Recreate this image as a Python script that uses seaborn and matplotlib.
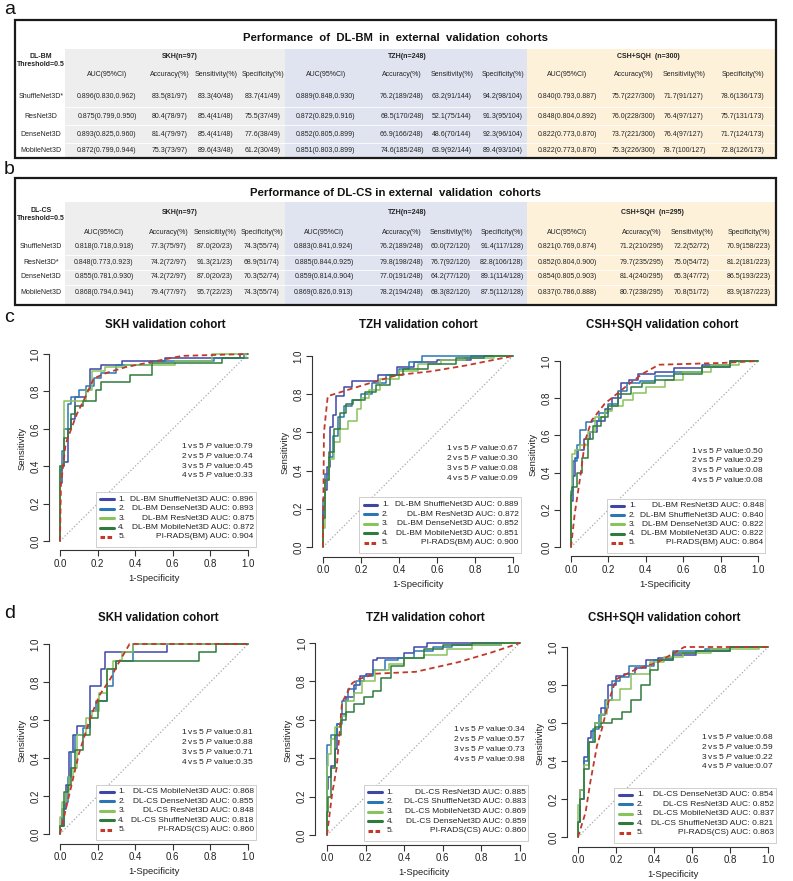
import matplotlib
matplotlib.use("Agg")
import matplotlib.pyplot as plt
from matplotlib.patches import Rectangle
import seaborn as sns

sns.set_theme(style="white")
plt.rcParams['font.family'] = ['Liberation Sans', 'DejaVu Sans']
plt.rcParams['mathtext.fontset'] = 'custom'
plt.rcParams['mathtext.rm'] = 'Liberation Sans'
plt.rcParams['mathtext.it'] = 'Liberation Sans:italic'

# -------------------------------
# Table data
# -------------------------------
models_bm = ["ShuffleNet3D*", "ResNet3D", "DenseNet3D", "MobileNet3D"]
models_cs = ["ShuffleNet3D", "ResNet3D*", "DenseNet3D", "MobileNet3D"]
cohorts_bm = ["SKH(n=97)", "TZH(n=248)", "CSH+SQH  (n=300)"]
cohorts_cs = ["SKH(n=97)", "TZH(n=248)", "CSH+SQH  (n=295)"]
metrics = ["AUC(95%CI)", "Accuracy(%)", "Sensitivity(%)", "Specificity(%)"]
metrics_cs_skh = ["AUC(95%CI)", "Accuracy(%)", "Sensicitity(%)", "Specificity(%)"]

bm_skh = [["0.896(0.830,0.962)", "83.5(81/97)", "83.3(40/48)", "83.7(41/49)"],
          ["0.875(0.799,0.950)", "80.4(78/97)", "85.4(41/48)", "75.5(37/49)"],
          ["0.893(0.825,0.960)", "81.4(79/97)", "85.4(41/48)", "77.6(38/49)"],
          ["0.872(0.799,0.944)", "75.3(73/97)", "89.6(43/48)", "61.2(30/49)"]]
bm_tzh = [["0.889(0.848,0.930)", "76.2(189/248)", "63.2(91/144)", "94.2(98/104)"],
          ["0.872(0.829,0.916)", "68.5(170/248)", "52.1(75/144)", "91.3(95/104)"],
          ["0.852(0.805,0.899)", "66.9(166/248)", "48.6(70/144)", "92.3(96/104)"],
          ["0.851(0.803,0.899)", "74.6(185/248)", "63.9(92/144)", "89.4(93/104)"]]
bm_csh = [["0.840(0.793,0.887)", "75.7(227/300)", "71.7(91/127)", "78.6(136/173)"],
          ["0.848(0.804,0.892)", "76.0(228/300)", "76.4(97/127)", "75.7(131/173)"],
          ["0.822(0.773,0.870)", "73.7(221/300)", "76.4(97/127)", "71.7(124/173)"],
          ["0.822(0.773,0.870)", "75.3(226/300)", "78.7(100/127)", "72.8(126/173)"]]

cs_skh = [["0.818(0.718,0.918)", "77.3(75/97)", "87.0(20/23)", "74.3(55/74)"],
          ["0.848(0.773,0.923)", "74.2(72/97)", "91.3(21/23)", "68.9(51/74)"],
          ["0.855(0.781,0.930)", "74.2(72/97)", "87.0(20/23)", "70.3(52/74)"],
          ["0.868(0.794,0.941)", "79.4(77/97)", "95.7(22/23)", "74.3(55/74)"]]
cs_tzh = [["0.883(0.841,0.924)", "76.2(189/248)", "60.0(72/120)", "91.4(117/128)"],
          ["0.885(0.844,0.925)", "79.8(198/248)", "76.7(92/120)", "82.8(106/128)"],
          ["0.859(0.814,0.904)", "77.0(191/248)", "64.2(77/120)", "89.1(114/128)"],
          ["0.869(0.826,0.913)", "78.2(194/248)", "68.3(82/120)", "87.5(112/128)"]]
cs_csh = [["0.821(0.769,0.874)", "71.2(210/295)", "72.2(52/72)", "70.9(158/223)"],
          ["0.852(0.804,0.900)", "79.7(235/295)", "75.0(54/72)", "81.2(181/223)"],
          ["0.854(0.805,0.903)", "81.4(240/295)", "65.3(47/72)", "86.5(193/223)"],
          ["0.837(0.786,0.888)", "80.7(238/295)", "70.8(51/72)", "83.9(187/223)"]]

# -------------------------------
# ROC data (1-specificity, sensitivity)
# order: model 1..4, then PI-RADS
# -------------------------------
c1_fpr = [[0, 0.01, 0.02, 0.04, 0.06, 0.08, 0.10, 0.14, 0.16, 0.18, 0.22, 0.28, 0.33, 0.56, 0.96, 1.0],
          [0, 0.01, 0.02, 0.04, 0.06, 0.10, 0.14, 0.18, 0.22, 0.30, 0.35, 0.48, 0.82, 0.98, 1.0],
          [0, 0.02, 0.10, 0.14, 0.17, 0.24, 0.35, 0.61, 0.81, 1.0],
          [0, 0.02, 0.04, 0.06, 0.08, 0.12, 0.15, 0.19, 0.22, 0.25, 0.37, 0.49, 0.86, 1.0],
          [0, 0.005, 0.03, 0.09, 0.13, 0.18, 0.25, 0.35, 0.50, 0.65, 1.0]]
c1_tpr = [[0, 0.31, 0.40, 0.42, 0.60, 0.65, 0.77, 0.77, 0.81, 0.92, 0.92, 0.94, 0.94, 0.96, 0.98, 1.0],
          [0, 0.38, 0.48, 0.60, 0.73, 0.77, 0.81, 0.83, 0.87, 0.90, 0.94, 0.94, 0.96, 0.98, 1.0],
          [0, 0.40, 0.75, 0.75, 0.81, 0.91, 0.93, 0.94, 0.96, 1.0],
          [0, 0.40, 0.55, 0.60, 0.68, 0.72, 0.75, 0.75, 0.81, 0.85, 0.85, 0.89, 0.95, 0.98],
          [0, 0.30, 0.52, 0.68, 0.76, 0.87, 0.90, 0.93, 0.96, 0.99, 1.0]]
c1_names = ["DL-BM ShuffleNet3D", "DL-BM DenseNet3D", "DL-BM ResNet3D", "DL-BM MobileNet3D", "PI-RADS(BM)"]
c1_auc = [0.896, 0.893, 0.875, 0.872, 0.904]
c1_p = [0.79, 0.74, 0.45, 0.33]

c2_fpr = [[0, 0.01, 0.02, 0.035, 0.05, 0.07, 0.11, 0.15, 0.20, 0.29, 0.39, 0.48, 0.60, 0.78, 0.90, 1.0],
          [0, 0.01, 0.03, 0.05, 0.08, 0.11, 0.15, 0.20, 0.26, 0.33, 0.40, 0.45, 0.52, 0.62, 0.75, 1.0],
          [0, 0.01, 0.03, 0.06, 0.09, 0.13, 0.18, 0.20, 0.24, 0.30, 0.40, 0.50, 0.62, 0.75, 0.90, 1.0],
          [0, 0.01, 0.03, 0.06, 0.09, 0.12, 0.16, 0.22, 0.28, 0.35, 0.42, 0.55, 0.70, 0.85, 1.0],
          [0, 0.005, 0.025, 0.22, 0.39, 0.57, 0.75, 1.0]]
c2_tpr = [[0, 0.20, 0.30, 0.42, 0.63, 0.69, 0.79, 0.84, 0.87, 0.87, 0.90, 0.94, 0.97, 0.98, 1.0, 1.0],
          [0, 0.25, 0.38, 0.47, 0.58, 0.68, 0.74, 0.77, 0.80, 0.86, 0.90, 0.93, 0.97, 1.0, 1.0, 1.0],
          [0, 0.10, 0.35, 0.46, 0.55, 0.62, 0.66, 0.72, 0.78, 0.82, 0.88, 0.92, 0.96, 0.98, 0.99, 1.0],
          [0, 0.15, 0.35, 0.50, 0.62, 0.70, 0.75, 0.77, 0.81, 0.85, 0.90, 0.93, 0.96, 0.99, 1.0],
          [0, 0.60, 0.79, 0.85, 0.90, 0.92, 0.95, 1.0]]
c2_names = ["DL-BM ShuffleNet3D", "DL-BM ResNet3D", "DL-BM DenseNet3D", "DL-BM MobileNet3D", "PI-RADS(BM)"]
c2_auc = [0.889, 0.872, 0.852, 0.851, 0.900]
c2_p = [0.67, 0.30, 0.08, 0.09]

c3_fpr = [[0, 0.01, 0.02, 0.04, 0.07, 0.10, 0.14, 0.18, 0.22, 0.27, 0.31, 0.36, 0.45, 0.55, 0.70, 0.85, 1.0],
          [0, 0.01, 0.03, 0.05, 0.08, 0.11, 0.15, 0.20, 0.25, 0.30, 0.37, 0.45, 0.55, 0.70, 0.85, 1.0],
          [0, 0.005, 0.02, 0.05, 0.09, 0.13, 0.18, 0.22, 0.28, 0.33, 0.40, 0.50, 0.60, 0.75, 0.90, 1.0],
          [0, 0.005, 0.03, 0.06, 0.09, 0.12, 0.16, 0.20, 0.25, 0.32, 0.38, 0.45, 0.55, 0.70, 0.85, 1.0],
          [0, 0.02, 0.05, 0.075, 0.11, 0.18, 0.29, 0.38, 0.47, 0.82, 1.0]]
c3_tpr = [[0, 0.25, 0.38, 0.48, 0.52, 0.58, 0.62, 0.68, 0.74, 0.80, 0.88, 0.90, 0.93, 0.94, 0.96, 0.98, 1.0],
          [0, 0.30, 0.46, 0.55, 0.63, 0.67, 0.68, 0.72, 0.77, 0.84, 0.88, 0.89, 0.92, 0.94, 0.97, 1.0],
          [0, 0.28, 0.50, 0.52, 0.55, 0.62, 0.70, 0.73, 0.76, 0.79, 0.83, 0.86, 0.90, 0.94, 0.98, 1.0],
          [0, 0.28, 0.32, 0.40, 0.48, 0.58, 0.65, 0.70, 0.76, 0.82, 0.86, 0.88, 0.90, 0.93, 0.97, 1.0],
          [0, 0.18, 0.38, 0.57, 0.68, 0.77, 0.86, 0.93, 0.98, 0.99, 1.0]]
c3_names = ["DL-BM ResNet3D", "DL-BM ShuffleNet3D", "DL-BM DenseNet3D", "DL-BM MobileNet3D", "PI-RADS(BM)"]
c3_auc = [0.848, 0.840, 0.822, 0.822, 0.864]
c3_p = [0.50, 0.29, 0.08, 0.08]

d1_fpr = [[0, 0.01, 0.03, 0.05, 0.07, 0.09, 0.12, 0.16, 0.22, 0.24, 0.57, 1.0],
          [0, 0.02, 0.04, 0.06, 0.08, 0.12, 0.16, 0.19, 0.25, 0.28, 0.30, 0.39, 1.0],
          [0, 0.01, 0.03, 0.05, 0.07, 0.09, 0.11, 0.14, 0.17, 0.21, 0.25, 0.28, 0.33, 0.39, 1.0],
          [0, 0.02, 0.04, 0.06, 0.08, 0.12, 0.16, 0.20, 0.25, 0.30, 0.33, 0.74, 0.83, 1.0],
          [0, 0.10, 0.16, 0.21, 0.27, 0.30, 0.37, 1.0]]
d1_tpr = [[0, 0.04, 0.13, 0.26, 0.43, 0.52, 0.57, 0.57, 0.78, 0.87, 0.96, 1.0],
          [0, 0.04, 0.17, 0.30, 0.43, 0.52, 0.56, 0.65, 0.70, 0.78, 0.87, 0.91, 1.0],
          [0, 0.09, 0.17, 0.22, 0.30, 0.35, 0.52, 0.52, 0.61, 0.65, 0.74, 0.87, 0.91, 0.96, 1.0],
          [0, 0.04, 0.22, 0.26, 0.35, 0.44, 0.52, 0.61, 0.70, 0.87, 0.91, 0.91, 0.96, 1.0],
          [0, 0.42, 0.61, 0.73, 0.82, 0.88, 1.0, 1.0]]
d1_names = ["DL-CS MobileNet3D", "DL-CS DenseNet3D", "DL-CS ResNet3D", "DL-CS ShuffleNet3D", "PI-RADS(CS)"]
d1_auc = [0.868, 0.855, 0.848, 0.818, 0.860]
d1_p = [0.81, 0.88, 0.71, 0.35]

d2_fpr = [[0, 0.005, 0.02, 0.04, 0.05, 0.07, 0.10, 0.14, 0.17, 0.20, 0.24, 0.26, 0.33, 0.40, 0.45, 0.52, 0.58, 1.0],
          [0, 0.005, 0.02, 0.05, 0.08, 0.11, 0.15, 0.19, 0.24, 0.30, 0.37, 0.45, 0.55, 0.65, 0.80, 0.90, 1.0],
          [0, 0.005, 0.02, 0.04, 0.07, 0.10, 0.14, 0.18, 0.25, 0.32, 0.40, 0.50, 0.62, 0.75, 0.90, 1.0],
          [0, 0.005, 0.02, 0.04, 0.07, 0.10, 0.14, 0.19, 0.24, 0.28, 0.33, 0.40, 0.50, 0.60, 0.75, 0.90, 1.0],
          [0, 0.026, 0.05, 0.078, 0.13, 0.16, 0.25, 0.46, 0.68, 0.85, 1.0]]
d2_tpr = [[0, 0.24, 0.30, 0.36, 0.45, 0.58, 0.63, 0.72, 0.78, 0.83, 0.84, 0.91, 0.92, 0.92, 0.95, 0.98, 1.0, 1.0],
          [0, 0.47, 0.47, 0.52, 0.58, 0.70, 0.76, 0.80, 0.83, 0.86, 0.91, 0.92, 0.96, 0.98, 0.99, 0.99, 1.0],
          [0, 0.36, 0.42, 0.50, 0.56, 0.62, 0.70, 0.74, 0.80, 0.86, 0.89, 0.92, 0.94, 0.97, 0.99, 1.0],
          [0, 0.12, 0.20, 0.35, 0.52, 0.60, 0.64, 0.68, 0.72, 0.75, 0.82, 0.88, 0.92, 0.97, 0.99, 1.0, 1.0],
          [0, 0.21, 0.35, 0.69, 0.79, 0.81, 0.84, 0.85, 0.90, 0.95, 1.0]]
d2_names = ["DL-CS ResNet3D", "DL-CS ShuffleNet3D", "DL-CS MobileNet3D", "DL-CS DenseNet3D", "PI-RADS(CS)"]
d2_auc = [0.885, 0.883, 0.869, 0.859, 0.860]
d2_p = [0.34, 0.57, 0.73, 0.98]

d3_fpr = [[0, 0.01, 0.03, 0.05, 0.07, 0.09, 0.12, 0.16, 0.20, 0.24, 0.30, 0.36, 0.42, 0.50, 0.62, 0.80, 1.0],
          [0, 0.01, 0.03, 0.05, 0.08, 0.11, 0.14, 0.18, 0.22, 0.27, 0.33, 0.40, 0.50, 0.67, 0.80, 1.0],
          [0, 0.01, 0.03, 0.06, 0.09, 0.12, 0.15, 0.18, 0.22, 0.28, 0.33, 0.38, 0.45, 0.55, 0.70, 0.95, 1.0],
          [0, 0.01, 0.03, 0.06, 0.09, 0.12, 0.18, 0.23, 0.28, 0.33, 0.38, 0.42, 0.50, 0.62, 0.80, 1.0],
          [0, 0.04, 0.065, 0.10, 0.126, 0.16, 0.20, 0.30, 0.42, 0.56, 1.0]]
d3_tpr = [[0, 0.08, 0.25, 0.42, 0.52, 0.56, 0.60, 0.68, 0.80, 0.85, 0.86, 0.89, 0.93, 0.94, 0.96, 0.98, 1.0],
          [0, 0.08, 0.20, 0.40, 0.50, 0.57, 0.64, 0.72, 0.82, 0.84, 0.90, 0.90, 0.93, 0.98, 0.99, 1.0],
          [0, 0.17, 0.25, 0.38, 0.50, 0.60, 0.65, 0.72, 0.72, 0.78, 0.86, 0.86, 0.92, 0.95, 0.97, 0.99, 1.0],
          [0, 0.08, 0.20, 0.36, 0.50, 0.58, 0.60, 0.62, 0.66, 0.72, 0.80, 0.88, 0.93, 0.97, 0.98, 1.0],
          [0, 0.13, 0.29, 0.48, 0.57, 0.71, 0.83, 0.88, 0.92, 1.0, 1.0]]
d3_names = ["DL-CS DenseNet3D", "DL-CS ResNet3D", "DL-CS MobileNet3D", "DL-CS ShuffleNet3D", "PI-RADS(CS)"]
d3_auc = [0.854, 0.852, 0.837, 0.821, 0.863]
d3_p = [0.68, 0.59, 0.22, 0.07]

roc_colors = ["#3E47A5", "#2C77B3", "#88C35B", "#2F7B3C", "#C0392B"]
band_colors = ["#EEEEEE", "#DFE4F0", "#FDF1DA"]
TXT = "#222222"
TFS = 5.0  # table font size

W, H = 793, 881
fig = plt.figure(figsize=(W / 100, H / 100), dpi=100)

# full-figure overlay in pixel units for tables and panel letters
bg = fig.add_axes([0, 0, 1, 1])
bg.set_xlim(0, W)
bg.set_ylim(H, 0)
bg.axis("off")

BOX_L, BOX_R = 15, 776
BAND_X = [65, 285, 527, 776]


def draw_table(top, bottom, title_y, band_top, title, corner, corner_ys,
               cohorts, head_x, head_y, subheads, sub_y, cols_x, row_names, row_ys, blocks):
    for k in range(3):
        bg.add_patch(Rectangle((BAND_X[k], band_top), BAND_X[k + 1] - BAND_X[k], bottom - band_top,
                               fc=band_colors[k], ec="none", zorder=1))
    # faint separators between the model rows
    for r in range(3):
        yy = (row_ys[r] + row_ys[r + 1]) / 2
        bg.plot([BOX_L, BOX_R], [yy, yy], color="white", lw=0.6, zorder=2)
    bg.add_patch(Rectangle((BOX_L, top), BOX_R - BOX_L, bottom - top, fill=False,
                           ec="#1A1A1A", lw=1.6, zorder=3))
    bg.text((BOX_L + BOX_R) / 2, title_y, title, ha="center", va="center",
            fontsize=8.2, fontweight="bold", color="#111111")
    for line, yy in zip(corner, corner_ys):
        bg.text(41, yy, line, ha="center", va="center", fontsize=TFS, fontweight="bold", color=TXT)
    for k in range(3):
        bg.text(head_x[k], head_y, cohorts[k], ha="center", va="center",
                fontsize=TFS, fontweight="bold", color=TXT)
        for j in range(4):
            xx = cols_x[4 * k + j]
            bg.text(xx, sub_y, subheads[k][j], ha="center", va="center", fontsize=TFS, color=TXT)
            for r in range(4):
                bg.text(xx, row_ys[r], blocks[k][r][j], ha="center", va="center",
                        fontsize=TFS, color=TXT)
    for r in range(4):
        bg.text(41, row_ys[r], row_names[r], ha="center", va="center", fontsize=TFS, color=TXT)


draw_table(20, 158, 38, 49, "Performance  of  DL-BM  in  external  validation  cohorts",
           ["DL-BM", "Threshold=0.5"], [56, 64], cohorts_bm, [180, 407, 648], 57,
           [metrics, metrics, metrics], 75,
           [107, 170, 216, 263, 326, 402, 452, 503, 567, 634, 684, 743],
           models_bm, [97, 116, 134, 151], [bm_skh, bm_tzh, bm_csh])

draw_table(178, 305, 193, 202, "Performance of DL-CS in external  validation  cohorts",
           ["DL-CS", "Threshold=0.5"], [210, 218], cohorts_cs, [180, 407, 652], 213,
           [metrics_cs_skh, metrics, metrics], 232,
           [104, 169, 215, 262, 324, 402, 451, 502, 567, 642, 692, 749],
           models_cs, [247, 263, 277, 292], [cs_skh, cs_tzh, cs_csh])

for letter, yy in zip(["a", "b", "c", "d"], [9, 169, 317, 614]):
    bg.text(4, yy, letter, ha="left", va="center", fontsize=14, color="#111111")

# -------------------------------
# ROC panels
# -------------------------------
XLIM = (-0.06, 1.06)
YLIM = (-0.05, 1.04)

panels = [
    (c1_fpr, c1_tpr, c1_names, c1_auc, c1_p, "SKH validation cohort", (60, 248, 354, 541), (165, 325), 0.51),
    (c2_fpr, c2_tpr, c2_names, c2_auc, c2_p, "TZH validation cohort", (323, 513, 356, 547), (418, 325), 0.52),
    (c3_fpr, c3_tpr, c3_names, c3_auc, c3_p, "CSH+SQH validation cohort", (571, 758, 361, 547), (662, 325), 0.52),
    (d1_fpr, d1_tpr, d1_names, d1_auc, d1_p, "SKH validation cohort", (60, 248, 644, 834), (158, 618), 0.54),
    (d2_fpr, d2_tpr, d2_names, d2_auc, d2_p, "TZH validation cohort", (327, 520, 643, 835), (425, 618), 0.555),
    (d3_fpr, d3_tpr, d3_names, d3_auc, d3_p, "CSH+SQH validation cohort", (578, 768, 647, 837), (664, 618), 0.53),
]

for fpr, tpr, names, aucs, pvals, title, (x0, x1, ytop, ybot), (tx, ty), p_top in panels:
    sx, sy = x1 - x0, ybot - ytop
    left = x0 + XLIM[0] * sx
    right = x0 + XLIM[1] * sx
    top = ytop - (YLIM[1] - 1) * sy
    bottom = ybot - YLIM[0] * sy
    ax = fig.add_axes([left / W, 1 - bottom / H, (right - left) / W, (bottom - top) / H])
    ax.set_facecolor("none")

    ax.plot([0, 1], [0, 1], ls=":", color="#A8A8A8", lw=0.9)
    for i in range(4):
        sns.lineplot(x=fpr[i], y=tpr[i], ax=ax, estimator=None, sort=False,
                     drawstyle="steps-pre", color=roc_colors[i], lw=1.1, legend=False)
    sns.lineplot(x=fpr[4], y=tpr[4], ax=ax, estimator=None, sort=False,
                 color=roc_colors[4], lw=1.3, ls=(0, (3, 2)), legend=False)

    ax.set_xlim(*XLIM)
    ax.set_ylim(*YLIM)
    for s in ["top", "right"]:
        ax.spines[s].set_visible(False)
    for s in ["left", "bottom"]:
        ax.spines[s].set_bounds(0, 1)
        ax.spines[s].set_color("#333333")
        ax.spines[s].set_linewidth(0.8)
    ticks = [0, 0.2, 0.4, 0.6, 0.8, 1.0]
    ax.set_xticks(ticks)
    ax.set_yticks(ticks)
    ax.set_xticklabels([f"{t:.1f}" for t in ticks])
    ax.set_yticklabels([f"{t:.1f}" for t in ticks], rotation=90, va="center")
    ax.tick_params(direction="out", length=4, width=0.8, color="#333333",
                   labelsize=7, pad=2, labelcolor="#222222", left=True, bottom=True)
    ax.set_xlabel("1-Specificity", fontsize=6.8, labelpad=4, color="#222222")
    ax.set_ylabel("Sensitivity", fontsize=6.8, labelpad=3, color="#222222")

    fig.text(tx / W, 1 - ty / H, title, ha="center", va="center",
             fontsize=8.3, fontweight="bold", color="#111111")

    # p-values
    for i, p in enumerate(pvals):
        ax.text(1.03, p_top - 0.052 * i, f"{i + 1} vs 5 $P$ value:{p:.2f}",
                ha="right", va="center", fontsize=6.0, color="#222222")

    # legend box
    ax.add_patch(Rectangle((0.19, -0.03), 0.85, 0.29, fc="white", ec="#C8C8C8",
                           lw=0.6, zorder=4, clip_on=False))
    for i in range(5):
        yy = 0.222 - 0.05 * i
        ax.plot([0.215, 0.285], [yy, yy], color=roc_colors[i], lw=2.2,
                ls="-" if i < 4 else (0, (1.5, 0.8)), zorder=5, clip_on=False)
        ax.text(0.31, yy, f"{i + 1}.", ha="left", va="center", fontsize=6.0,
                color="#222222", zorder=5)
        ax.text(1.03, yy, f"{names[i]} AUC: {aucs[i]:.3f}", ha="right", va="center",
                fontsize=6.0, color="#222222", zorder=5)

fig.savefig("out.png", dpi=100)
